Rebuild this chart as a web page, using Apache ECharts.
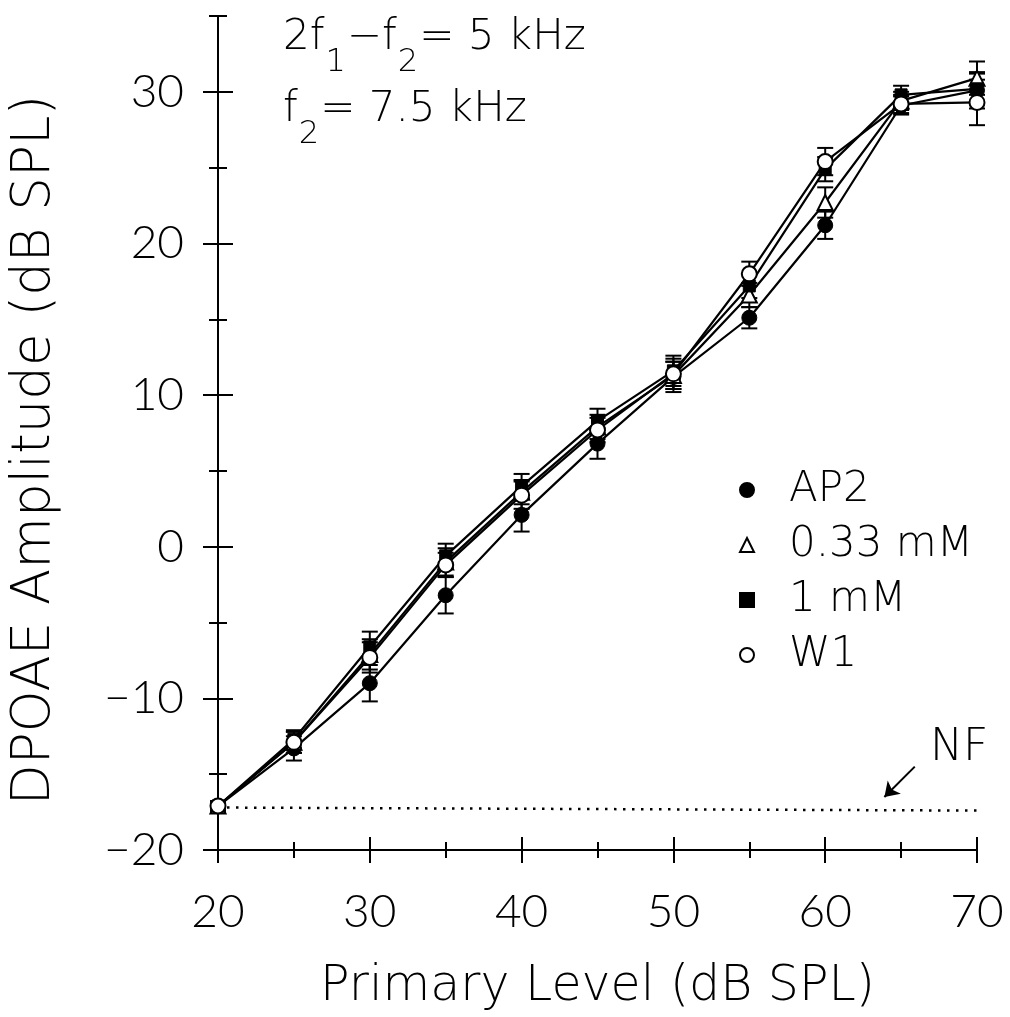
<!DOCTYPE html>
<html>
<head>
<meta charset="utf-8">
<script src="https://cdn.jsdelivr.net/npm/echarts@6/dist/echarts.min.js"></script>
<style>html,body{margin:0;padding:0;background:#fff;}#c{width:1010px;height:1017px;}</style>
</head>
<body>
<div id="c"></div>
<script>
// ---- data ----
const levels = [20, 25, 30, 35, 40, 45, 50, 55, 60, 65, 70];
const ap2    = [-17.1, -13.3, -9.0, -3.2, 2.1, 6.8, 11.2, 15.1, 21.2, 29.1, 30.1];
const ap2Err = [0.3, 0.8, 1.2, 1.2, 1.1, 1.0, 1.0, 0.7, 0.9, 0.6, 1.2];
const mM033    = [-17.1, -12.9, -7.1, -1.0, 3.6, 7.9, 11.3, 16.6, 22.7, 29.4, 30.9];
const mM033Err = [0.3, 0.7, 1.0, 0.9, 0.8, 0.8, 0.9, 0.8, 1.0, 0.6, 1.1];
const mM1    = [-17.1, -12.7, -6.6, -0.6, 4.0, 8.3, 11.6, 17.2, 24.9, 29.8, 30.2];
const mM1Err = [0.3, 0.6, 1.0, 0.8, 0.8, 0.8, 1.0, 0.8, 0.8, 0.6, 1.0];
const w1    = [-17.1, -12.9, -7.3, -1.2, 3.4, 7.7, 11.4, 18.0, 25.4, 29.2, 29.3];
const w1Err = [0.3, 0.7, 1.0, 0.8, 0.9, 0.8, 1.0, 0.8, 0.9, 0.6, 1.5];
const nfX = [20, 70];
const nfY = [-17.2, -17.4];
const nfArrowFrom = [65.9, -14.5];
const nfArrowTo = [63.9, -16.5];
const xMajorTicks = [20, 30, 40, 50, 60, 70];
const xMinorTicks = [25, 35, 45, 55, 65];
const yMajorTicks = [-20, -10, 0, 10, 20, 30];
const yMinorTicks = [-15, -5, 5, 15, 25, 35];
const seriesNames = ['AP2', '0.33 mM', '1 mM', 'W1'];

// ---- chart ----
const NFONT = 'Lato';
const WFONT = 'DejaVu Sans';
const chart = echarts.init(document.getElementById('c'), null, {renderer: 'canvas'});

function pairs(xs, ys) { return xs.map((x, i) => [x, ys[i]]); }
function errData(xs, ys, es) { return xs.map((x, i) => [x, ys[i], es[i]]); }

function errSeries(ys, es) {
  return {
    type: 'custom',
    xAxisIndex: 0, yAxisIndex: 0,
    silent: true,
    z: 3,
    data: errData(levels, ys, es),
    renderItem: function (params, api) {
      const x = api.value(0), y = api.value(1), e = api.value(2);
      const top = api.coord([x, y + e]);
      const bot = api.coord([x, y - e]);
      const hw = 8;
      const st = {stroke: '#000', lineWidth: 2};
      return {
        type: 'group',
        children: [
          {type: 'line', shape: {x1: top[0], y1: top[1], x2: bot[0], y2: bot[1]}, style: st},
          {type: 'line', shape: {x1: top[0] - hw, y1: top[1], x2: top[0] + hw, y2: top[1]}, style: st},
          {type: 'line', shape: {x1: bot[0] - hw, y1: bot[1], x2: bot[0] + hw, y2: bot[1]}, style: st}
        ]
      };
    }
  };
}

function lineSeries(name, ys, symbol, size, filled) {
  return {
    name: name,
    type: 'line',
    xAxisIndex: 0, yAxisIndex: 0,
    data: pairs(levels, ys),
    symbol: symbol,
    symbolSize: size,
    showAllSymbol: true,
    z: 4,
    lineStyle: {color: '#000', width: 2.2},
    itemStyle: filled ? {color: '#000', borderColor: '#000', borderWidth: 1}
                      : {color: '#fff', borderColor: '#000', borderWidth: 2},
    emphasis: {disabled: true}
  };
}

const baseX = {
  type: 'value', min: 20, max: 70, position: 'bottom',
  splitLine: {show: false}, axisLabel: {show: false},
  axisLine: {show: false, onZero: false}
};
const baseY = {
  type: 'value', min: -20, max: 35, position: 'left',
  splitLine: {show: false}, axisLabel: {show: false},
  axisLine: {show: false, onZero: false}
};
const tickStyle = {color: '#000', width: 2};
// crossing ticks: axis shifted inward by half the tick length, ticks drawn outward
function tickAxis(base, values, half) {
  return Object.assign({}, base, {
    offset: -half,
    axisTick: {show: true, inside: false, length: 2 * half, lineStyle: tickStyle, customValues: values}
  });
}

const option = {
  backgroundColor: '#fff',
  animation: false,
  textStyle: {fontFamily: NFONT, color: '#000'},
  grid: {left: 218, right: 33, top: 16, bottom: 166, containLabel: false},
  xAxis: [
    Object.assign({}, baseX, {
      axisLine: {show: true, onZero: false, lineStyle: {color: '#000', width: 2}},
      axisTick: {show: false},
      axisLabel: {show: true, customValues: xMajorTicks, color: '#000', fontFamily: NFONT, fontWeight: 300, fontSize: 46, margin: 39},
      name: 'Primary Level (dB SPL)', nameLocation: 'middle', nameGap: 113,
      nameTextStyle: {fontFamily: WFONT, fontSize: 49, fontWeight: 200, color: '#000'}
    }),
    tickAxis(baseX, xMajorTicks, 13),
    tickAxis(baseX, xMinorTicks, 8)
  ],
  yAxis: [
    Object.assign({}, baseY, {
      axisLine: {show: true, onZero: false, lineStyle: {color: '#000', width: 2}},
      axisTick: {show: false},
      axisLabel: {show: true, customValues: yMajorTicks, color: '#000', fontFamily: NFONT, fontWeight: 300, fontSize: 46, margin: 34,
                  formatter: function (v) { return String(v).replace('-', '\u2212'); }}
    }),
    tickAxis(baseY, yMajorTicks, 15),
    tickAxis(baseY, yMinorTicks, 9)
  ],
  legend: {
    orient: 'vertical', left: 734, top: 464,
    itemWidth: 14, itemHeight: 14, itemGap: 13,
    selectedMode: false,
    textStyle: {fontFamily: WFONT, fontSize: 42, fontWeight: 200, color: '#000', padding: [0, 0, 0, 30]},
    data: [
      {name: seriesNames[0], icon: 'circle'},
      {name: seriesNames[1], icon: 'triangle'},
      {name: seriesNames[2], icon: 'rect'},
      {name: seriesNames[3], icon: 'circle'}
    ]
  },
  graphic: [
    {
      type: 'text', x: 35, y: 450, rotation: Math.PI / 2,
      style: {text: 'DPOAE Amplitude (dB SPL)', fontFamily: WFONT, fontSize: 53, fontWeight: 200, fill: '#000',
              align: 'center', verticalAlign: 'middle'}
    },
    {
      type: 'text', left: 283, top: 17,
      style: {
        text: '{m|2f}{s|1}{m|−f}{s|2}{m|= 5 kHz}',
        rich: {
          m: {fontFamily: WFONT, fontWeight: 200, fontSize: 42, lineHeight: 50, verticalAlign: 'top', fill: '#000'},
          s: {fontFamily: WFONT, fontWeight: 200, fontSize: 32, lineHeight: 36, padding: [30, 1, 0, 1], verticalAlign: 'top', fill: '#000'}
        }
      }
    },
    {
      type: 'text', left: 283, top: 89,
      style: {
        text: '{m|f}{s|2}{m|= 7.5 kHz}',
        rich: {
          m: {fontFamily: WFONT, fontWeight: 200, fontSize: 42, lineHeight: 50, verticalAlign: 'top', fill: '#000'},
          s: {fontFamily: WFONT, fontWeight: 200, fontSize: 32, lineHeight: 36, padding: [30, 1, 0, 1], verticalAlign: 'top', fill: '#000'}
        }
      }
    },
    {
      type: 'text', left: 930, top: 727,
      style: {text: 'NF', fontFamily: WFONT, fontWeight: 200, fontSize: 44, fill: '#000'}
    }
  ],
  series: [
    errSeries(ap2, ap2Err),
    errSeries(mM033, mM033Err),
    errSeries(mM1, mM1Err),
    errSeries(w1, w1Err),
    lineSeries(seriesNames[0], ap2, 'circle', 15, true),
    lineSeries(seriesNames[1], mM033, 'triangle', 15, false),
    lineSeries(seriesNames[2], mM1, 'rect', 12, true),
    lineSeries(seriesNames[3], w1, 'circle', 15, false),
    {
      name: 'NF', type: 'line', data: pairs(nfX, nfY), symbol: 'none', z: 2,
      lineStyle: {color: '#000', width: 2.5, type: [2.5, 6.5]},
      emphasis: {disabled: true},
      markLine: {
        silent: true, symbol: ['none', 'arrow'], symbolSize: 14,
        label: {show: false},
        lineStyle: {color: '#000', width: 2, type: 'solid'},
        data: [[{coord: nfArrowFrom}, {coord: nfArrowTo}]]
      }
    }
  ]
};
chart.setOption(option);
</script>
</body>
</html>
